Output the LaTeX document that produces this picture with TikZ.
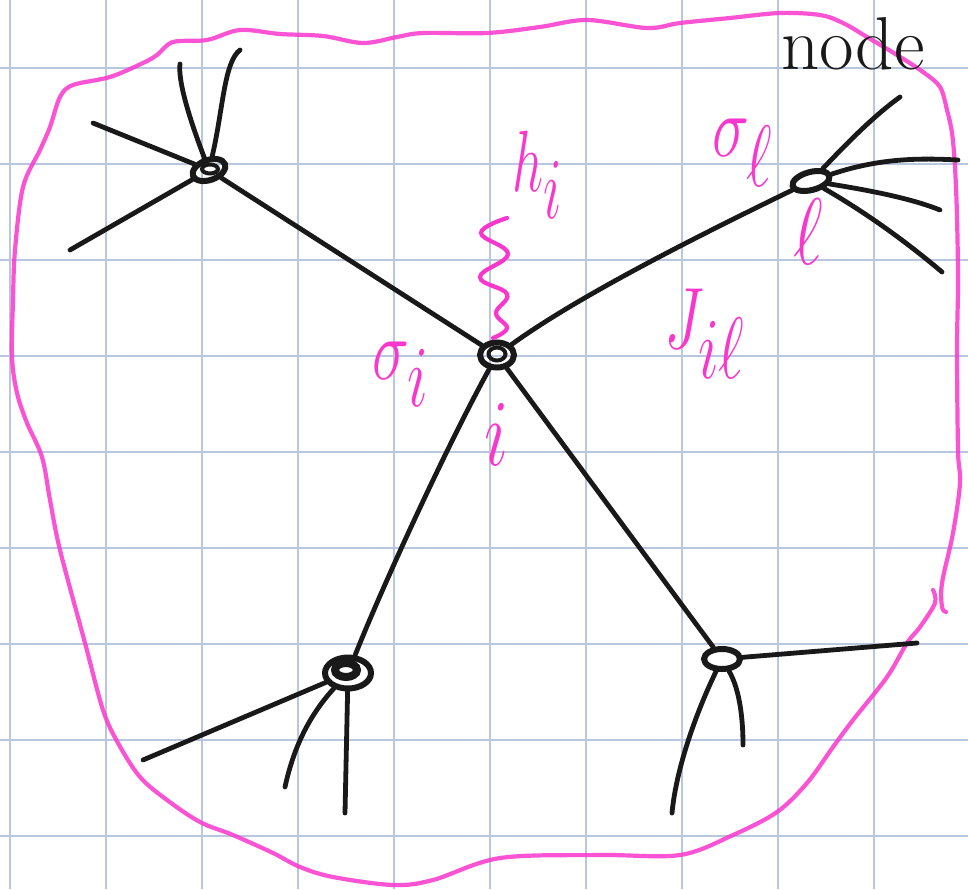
\documentclass[tikz,border=0pt]{standalone}
\usetikzlibrary{shapes.geometric}
\definecolor{gridc}{RGB}{184,199,222}
\definecolor{pinkc}{RGB}{250,55,205}
\definecolor{inkc}{RGB}{25,25,25}
\tikzset{
  gridline/.style={draw=gridc, line width=1.8},
  ink/.style={draw=inkc, line width=4.8, line cap=round, line join=round},
  vertex/.style={ellipse, draw=inkc, line width=6, inner sep=0pt},
  bound/.style={draw=pinkc, line width=4.2, line cap=round, line join=round, opacity=0.85},
  plabel/.style={text=pinkc, inner sep=0pt, font=\fontsize{24.88}{26}\selectfont},
  blabel/.style={text=inkc, inner sep=0pt, font=\fontsize{75}{75}\selectfont},
}
\begin{document}
\begin{tikzpicture}[x=1pt,y=-1pt]
\useasboundingbox (0,0) rectangle (968,889);
\fill[white] (0,0) rectangle (968,889);
% grid paper
\foreach \gx in {10,106,...,874} \draw[gridline] (\gx,0) -- (\gx,889);
\foreach \gy in {68,164,...,836} \draw[gridline] (0,\gy) -- (968,\gy);

% pink boundary
\draw[bound] plot[smooth, tension=0.55] coordinates {
 (933,590) (935,603) (920,627) (907,643) (887,677) (853,720) (833,747) (807,783)
 (777,812) (733,835) (680,855) (600,855) (500,858) (433,880) (393,885) (333,877)
 (300,867) (273,853) (233,835) (200,822) (167,800) (140,777) (118,743) (103,710)
 (85,643) (60,550) (50,500) (42,457) (27,423) (17,393) (12,357) (13,300) (15,250)
 (23,187) (40,150) (50,127) (60,97) (73,85) (110,77) (143,63) (157,55) (173,42)
 (207,40) (240,30) (280,34) (323,36) (363,43) (397,37) (423,33) (487,33) (540,27)
 (587,20) (647,28) (680,23) (730,18) (780,13) (820,15) (843,23) (867,37) (897,55)
 (923,72) (940,87) (947,110) (952,133) (955,167) (957,217) (958,283) (957,350)
 (958,450) (960,483) (953,533) (942,583) (942,607) (946,612)};

% vertices
\node[vertex, minimum width=34, minimum height=25] (i) at (497,355) {};
\draw[draw=inkc, line width=4] (497,354) ellipse [x radius=8.5, y radius=6.5];
\node[vertex, minimum width=34, minimum height=20, rotate=20] (tl) at (209,170) {};
\draw[draw=inkc, line width=4] (210,169) ellipse [x radius=8, y radius=4.5];
\node[vertex, minimum width=38, minimum height=18, rotate=15] (tr) at (811,181) {};
\node[vertex, minimum width=46, minimum height=31] (bl) at (348,673) {};
\draw[draw=inkc, line width=8] (346,670) ellipse [x radius=11, y radius=7];
\node[vertex, minimum width=36, minimum height=20] (br) at (722,659) {};

% free ends
\coordinate (tlA) at (180,64);
\coordinate (tlB) at (240,50);
\coordinate (tlC) at (93,123);
\coordinate (tlD) at (70,250);
\coordinate (trA) at (900,97);
\coordinate (trB) at (958,160);
\coordinate (trC) at (940,210);
\coordinate (trD) at (942,272);
\coordinate (blA) at (345,813);
\coordinate (blB) at (285,787);
\coordinate (blC) at (143,760);
\coordinate (brA) at (672,813);
\coordinate (brB) at (743,745);
\coordinate (brC) at (917,643);

% edges between vertices
\draw[ink] (i) -- (tl);
\draw[ink] (i) .. controls (580,295) and (700,235) .. (tr);
\draw[ink] (i) .. controls (450,440) and (385,580) .. (bl);
\draw[ink] (i) -- (br);

% dangling edges
\draw[ink] (tl) .. controls (188,115) and (178,80) .. (tlA);
\draw[ink] (tl) .. controls (223,110) and (224,62) .. (tlB);
\draw[ink] (tl) -- (tlC);
\draw[ink] (tl) -- (tlD);
\draw[ink] (tr) .. controls (850,140) and (875,115) .. (trA);
\draw[ink] (tr) .. controls (880,158) and (920,158) .. (trB);
\draw[ink] (tr) .. controls (880,192) and (915,200) .. (trC);
\draw[ink] (tr) .. controls (870,215) and (910,245) .. (trD);
\draw[ink] (bl) -- (blA);
\draw[ink] (bl) .. controls (305,720) and (292,755) .. (blB);
\draw[ink] (bl) -- (blC);
\draw[ink] (br) .. controls (695,715) and (676,770) .. (brA);
\draw[ink] (br) .. controls (740,690) and (743,720) .. (brB);
\draw[ink] (br) -- (brC);

% field squiggle
\draw[draw=pinkc, line width=4.2, line cap=round] plot[smooth, tension=0.7] coordinates {
 (507,218) (481,233) (508,254) (480,277) (507,294) (496,313) (507,328) (493,338)};

% pink labels
\node[plabel] (lh) at (538,175) {\scalebox{2.2}[3.5]{$h_{\textstyle i}$}};
\node[plabel] (lsi) at (401,374) {\scalebox{2.5}[3.5]{$\sigma_{\textstyle i}$}};
\node[plabel] (li) at (497,435) {\scalebox{2.9}[3.8]{$i$}};
\node[plabel] (lsl) at (743,153) {\scalebox{2.5}[3.5]{$\sigma_{\textstyle \ell}$}};
\node[plabel] (ll) at (808,232) {\scalebox{2.9}[3.8]{$\ell$}};
\node[plabel] (lJ) at (705,334) {\scalebox{2.5}[3.5]{$J_{\textstyle i\ell}$}};

% black handwriting
\node[blabel] (tnode) at (853,44) {node};
\end{tikzpicture}
\end{document}
